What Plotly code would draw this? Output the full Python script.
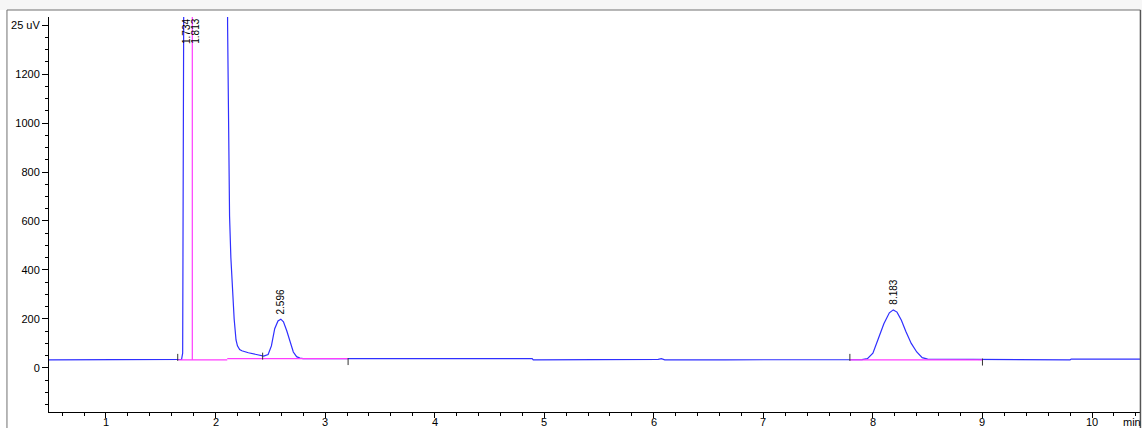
import plotly.graph_objects as go

# ---- data ----
blue_t = [0.48, 0.69, 0.70, 0.71, 1.66, 1.69, 1.70, 1.71, 1.72, 2.00, 2.105, 2.110, 2.118, 2.128,
          2.14, 2.155, 2.17, 2.187, 2.20, 2.22, 2.24, 2.30, 2.35, 2.40, 2.44, 2.48, 2.51, 2.54, 2.57,
          2.596, 2.62, 2.65, 2.68, 2.71, 2.74, 2.77, 2.80, 4.89, 4.90, 5.50, 5.52, 5.70, 5.72,
          6.04, 6.07, 6.10, 6.65, 7.79, 7.90, 7.95, 8.00, 8.05, 8.10, 8.15, 8.186, 8.22, 8.26,
          8.30, 8.35, 8.40, 8.45, 8.50, 8.82, 9.80, 9.81, 10.45]
blue_v = [33, 33, 36, 33, 33, 35, 60, 1600, 3000, 3000, 3000, 1400, 900, 620,
          450, 320, 200, 114, 90, 75, 70, 62, 57, 51, 48, 55, 90, 160, 192,
          199, 188, 152, 105, 65, 46, 40, 38, 38, 33, 33, 35, 34, 36,
          35, 38, 33, 33, 33, 34, 38, 60, 120, 180, 225, 237, 228, 195,
          150, 100, 65, 42, 36, 35, 33, 36, 36]

base_t = [1.66, 2.107, None, 2.107, 3.21, None, 1.788, 1.788, None, 7.79, 9.00]
base_v = [33, 33, None, 38, 38, None, 33, 3000, None, 33, 33]

mark_t = [1.655, 2.43, 3.21, 7.79, 9.00]
mark_v = [43, 48, 26, 43, 24]

peak_t = [2.596, 8.186]
peak_v = [199, 237]
peak_lbl = ["2.596", "8.183"]

top_t = [1.735, 1.815]
top_lbl = ["1.734", "1.813"]

x_ticks = [1, 2, 3, 4, 5, 6, 7, 8, 9, 10]
x_text = ["1", "2", "3", "4", "5", "6", "7", "8", "9", "10"]
y_ticks = [0, 200, 400, 600, 800, 1000, 1200, 1400]
y_text = ["0", "200", "400", "600", "800", "1000", "1200", "25 uV"]

FONT = "Liberation Sans, Arial, sans-serif"

fig = go.Figure()
fig.add_trace(go.Scatter(x=blue_t, y=blue_v, mode="lines",
                         line=dict(color="#2f2fff", width=1.2), hoverinfo="skip"))
fig.add_trace(go.Scatter(x=base_t, y=base_v, mode="lines", connectgaps=False,
                         line=dict(color="#ff3cff", width=1.2), hoverinfo="skip"))
fig.add_trace(go.Scatter(x=mark_t, y=mark_v, mode="markers",
                         marker=dict(symbol="line-ns-open", size=5, color="#333333",
                                     line=dict(color="#333333", width=1)),
                         hoverinfo="skip"))

for t, v, s in zip(peak_t, peak_v, peak_lbl):
    fig.add_annotation(x=t, y=v, text=s, textangle=-90, showarrow=False,
                       xanchor="center", yanchor="bottom", yshift=3,
                       font=dict(family=FONT, size=10, color="#000"))
for t, s in zip(top_t, top_lbl):
    fig.add_annotation(x=t, y=1, yref="paper", text=s, textangle=-90, showarrow=False,
                       xanchor="center", yanchor="top",
                       font=dict(family=FONT, size=10, color="#000"))

# x tick labels (placed as the reference shows them, near the picture's bottom edge)
for t, s in zip(x_ticks, x_text):
    fig.add_annotation(x=t, y=-0.008, yref="paper", text=s, showarrow=False,
                       xanchor="center", yanchor="top", borderpad=0,
                       font=dict(family=FONT, size=11, color="#000"))
fig.add_annotation(x=0.9918, y=-0.008, xref="paper", yref="paper", text="min",
                   showarrow=False, xanchor="center", yanchor="top", borderpad=0,
                   font=dict(family=FONT, size=11, color="#000"))

# outer frame and grey strip above
fig.add_shape(type="rect", xref="paper", yref="paper", x0=-0.05, x1=1.01, y0=1.0177, y1=1.06,
              fillcolor="#f6f6f6", line=dict(width=0), layer="below")
fig.add_shape(type="line", xref="paper", yref="paper", x0=-0.0385, x1=0.9995, y0=1.0177, y1=1.0177,
              line=dict(color="#707070", width=1))
fig.add_shape(type="line", xref="paper", yref="paper", x0=-0.0385, x1=-0.0385, y0=-0.06, y1=1.0177,
              line=dict(color="#707070", width=1))
fig.add_shape(type="line", xref="paper", yref="paper", x0=0.9995, x1=0.9995, y0=-0.06, y1=1.0177,
              line=dict(color="#555555", width=1.5))

fig.update_layout(
    width=1142, height=428,
    margin=dict(l=49, r=1, t=17, b=16, autoexpand=False),
    paper_bgcolor="white", plot_bgcolor="white",
    showlegend=False,
    font=dict(family=FONT, size=11, color="#000"),
    xaxis=dict(range=[0.48, 10.447], tickvals=x_ticks, showticklabels=False,
               ticks="outside", ticklen=5, automargin=False,
               tickcolor="#000", showline=True, linecolor="#000", linewidth=1,
               showgrid=False, zeroline=False,
               minor=dict(dtick=0.2, tick0=0, ticks="outside", ticklen=3, tickcolor="#000",
                          showgrid=False)),
    yaxis=dict(range=[-180, 1433], tickvals=y_ticks, ticktext=y_text, ticks="outside",
               automargin=False,
               ticklen=6, tickcolor="#000", showline=True, linecolor="#000", linewidth=1,
               showgrid=False, zeroline=False, tickfont=dict(size=11),
               minor=dict(dtick=50, tick0=0, ticks="outside", ticklen=3, tickcolor="#000",
                          showgrid=False)),
)

fig.write_html("out.html")
